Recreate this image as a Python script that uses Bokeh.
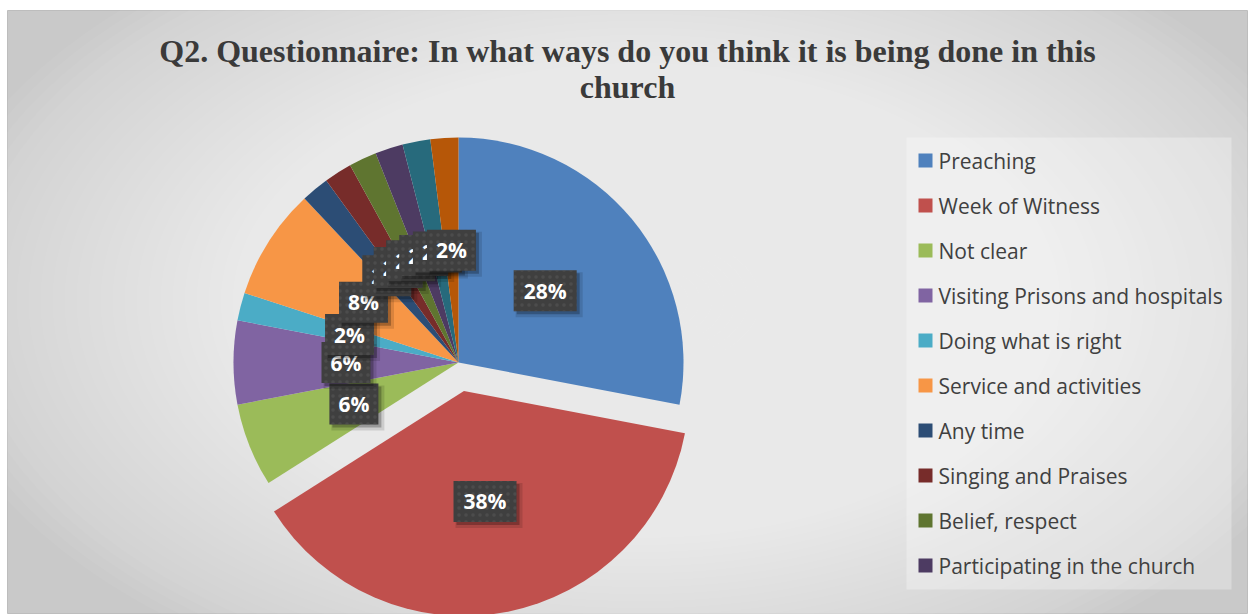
import numpy as np
from bokeh.plotting import figure
from bokeh.models import Range1d
from bokeh.core.properties import value
from bokeh.embed import file_html
from bokeh.resources import INLINE

# ---------------- data ----------------
title_lines = ["Q2. Questionnaire: In what ways do you think it is being done in this",
               "church"]
categories = ["Preaching", "Week of Witness", "Not clear",
              "Visiting Prisons and hospitals", "Doing what is right",
              "Service and activities", "Any time", "Singing and Praises",
              "Belief, respect", "Participating in the church",
              "Other (11)", "Other (12)"]
percents = [28, 38, 6, 6, 2, 8, 2, 2, 2, 2, 2, 2]
colors = ["#4F81BD", "#C0504D", "#9BBB59", "#8064A2", "#4BACC6", "#F79646",
          "#2C4D75", "#772C2A", "#5F7530", "#4D3B62", "#276A7C", "#B65708"]
exploded = [0, 1, 0, 0, 0, 0, 0, 0, 0, 0, 0, 0]
legend_shown = 10  # the legend box only has room for the first ten entries

# ---------------- layout ----------------
W, H = 1253, 614
def Y(py):
    return H - py

CX, CY = 458, Y(362)
R = 225
EXPLODE = 29
LABEL_R = 0.5 * R

p = figure(width=W, height=H, x_range=Range1d(0, W), y_range=Range1d(0, H),
           x_axis_type=None, y_axis_type=None, toolbar_location=None,
           output_backend="svg", min_border=0)
p.outline_line_color = None
p.grid.visible = False
p.background_fill_color = "white"
p.border_fill_color = "white"

# chart area with a soft radial gradient
FX0, FX1, FY0, FY1 = 7, 1247, 10, 613
p.quad(left=[FX0], right=[FX1], top=[Y(FY0)], bottom=[Y(FY1)],
       fill_color="#c9c9c9", line_color="#bdbdbd", line_width=1)
N = 60
gx, gy = 640, Y(300)
for k in range(N, 0, -1):
    f = k / N
    p.ellipse(x=[gx], y=[gy], width=[2 * 720 * f], height=[2 * 420 * f],
              fill_color="white", fill_alpha=0.045, line_color=None)

# legend box
LX0, LX1, LY0, LY1 = 906, 1231, 137, 589
p.quad(left=[LX0], right=[LX1], top=[Y(LY0)], bottom=[Y(LY1)],
       fill_color="white", fill_alpha=0.3, line_color=None)

# ---------------- pie ----------------
fr = np.array(percents, dtype=float) / sum(percents)
cum = np.concatenate([[0.0], np.cumsum(fr)])
start_f, end_f = cum[:-1], cum[1:]
mid_f = (start_f + end_f) / 2
theta = lambda f: np.pi / 2 - 2 * np.pi * f
ex = np.array(exploded, dtype=float)
xs = CX + EXPLODE * ex * np.cos(theta(mid_f))
ys = CY + EXPLODE * ex * np.sin(theta(mid_f))

p.wedge(x=list(xs), y=list(ys), radius=R,
        start_angle=list(theta(start_f)), end_angle=list(theta(end_f)),
        direction="clock", fill_color=colors, line_color=None)

# ---------------- data labels ----------------
lx = xs + LABEL_R * np.cos(theta(mid_f))
ly = ys + LABEL_R * np.sin(theta(mid_f))
texts = [f"{v}%" for v in percents]
for i in range(len(percents)):
    bw = 14 * len(texts[i]) + 21
    bh = 41
    p.rect(x=[lx[i] + 4], y=[ly[i] - 4], width=[bw + 4], height=[bh + 4],
           fill_color="black", fill_alpha=0.12, line_color=None)
    p.rect(x=[lx[i] + 3], y=[ly[i] - 3], width=[bw], height=[bh],
           fill_color="black", fill_alpha=0.25, line_color=None)
    p.rect(x=[lx[i]], y=[ly[i]], width=[bw], height=[bh],
           fill_color="#3f3f3f", line_color=None,
           hatch_pattern="dot", hatch_color="#5a5a5a", hatch_scale=7,
           hatch_weight=1.5, hatch_alpha=0.45)
    p.text(x=[lx[i]], y=[ly[i]], text=[texts[i]], text_align="center",
           text_baseline="middle", text_font=value("Open Sans"),
           text_font_style="bold", text_font_size="21px", text_color="white")

# ---------------- legend ----------------
leg_y = [Y(160 + 45 * i) for i in range(legend_shown)]
p.rect(x=[925] * legend_shown, y=leg_y, width=14, height=14,
       fill_color=colors[:legend_shown], line_color=None)
p.text(x=[938] * legend_shown, y=leg_y, text=categories[:legend_shown],
       text_align="left", text_baseline="middle", text_font=value("Open Sans"),
       text_font_size="21px", text_color="#404040")

# ---------------- title ----------------
p.text(x=[627, 627], y=[Y(50), Y(86)], text=title_lines, text_align="center",
       text_baseline="middle", text_font=value("Liberation Serif"),
       text_font_style="bold", text_font_size="32px", text_color="#3a3a3a")

open("out.html", "w").write(file_html(p, INLINE))
